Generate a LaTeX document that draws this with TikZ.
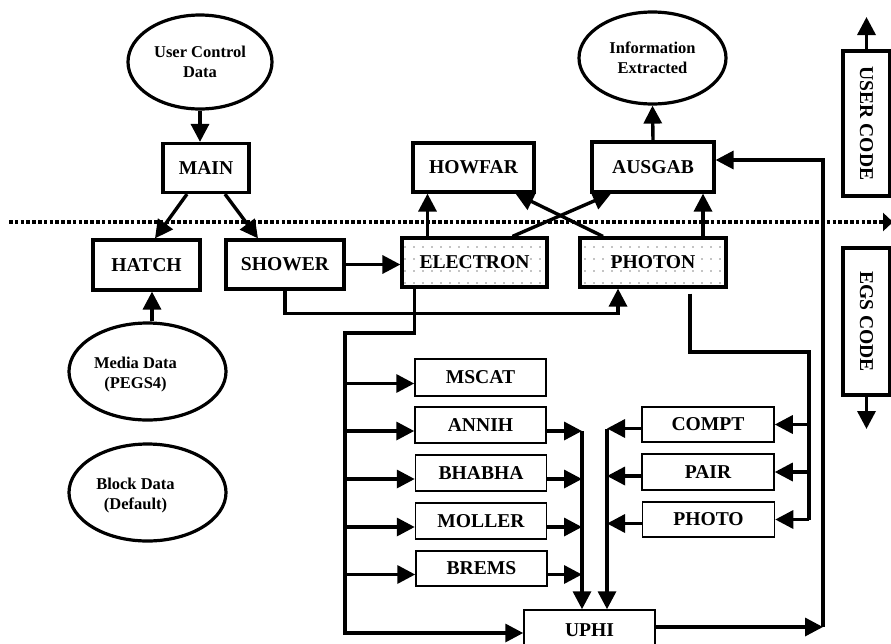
\documentclass[tikz,border=0pt]{standalone}
\usepackage{fontspec}
\setmainfont{Liberation Serif}
\usepackage{graphicx}
\usetikzlibrary{arrows.meta,shapes.geometric,calc,patterns}
\pgfdeclarepatternformonly{sparsedots}{\pgfpoint{-1pt}{-1pt}}{\pgfpoint{1pt}{1pt}}{\pgfpoint{9pt}{12pt}}{\pgfpathcircle{\pgfpointorigin}{0.65pt}\pgfusepath{fill}}
\begin{document}
\begin{tikzpicture}[x=1pt,y=-1pt,
  tbox/.style={draw, line width=3.2pt, inner sep=0pt, font=\fontsize{19.6}{22}\selectfont\bfseries},
  nbox/.style={draw, line width=1.5pt, inner sep=0pt, font=\fontsize{19.6}{22}\selectfont\bfseries},
  oval/.style={draw, ellipse, line width=3.2pt, inner sep=0pt, align=center, font=\fontsize{16.5}{19.5}\selectfont\bfseries},
  ovaltext/.style={font=\fontsize{16.5}{19.5}\selectfont\bfseries, align=center},
  conn/.style={line width=3.4pt, -{Triangle[length=18pt,width=18pt]}},
  plain/.style={line width=3.4pt},
  divider/.style={line width=4pt, dash pattern=on 3.5pt off 2.3pt, -{Triangle[length=10pt,width=18pt]}}
]
\useasboundingbox (0,0) rectangle (891,643);

% ellipses
\node[oval, minimum width=144, minimum height=94] (ucd) at (200,62) {User Control\\Data};
\node[oval, minimum width=147, minimum height=92] (info) at (652.5,58) {Information\\Extracted};
\node[oval, minimum width=157, minimum height=97,
  label={[ovaltext, xshift=-12pt, yshift=-3pt]center:Media Data\\(PEGS4)}] (media) at (147.5,371.5) {};
\node[oval, minimum width=157, minimum height=97,
  label={[ovaltext, xshift=-12pt, yshift=-3pt]center:Block Data\\(Default)}] (block) at (147.5,492.5) {};

% thick boxes
\node[tbox, minimum width=86, minimum height=49] (main) at (206,168) {MAIN};
\node[tbox, minimum width=107, minimum height=50] (hatch) at (146.5,265) {HATCH};
\node[tbox, minimum width=118, minimum height=49] (shower) at (285,264.5) {SHOWER};
\node[tbox, pattern=sparsedots, minimum width=145, minimum height=49] (electron) at (474.5,262.5) {ELECTRON};
\node[tbox, pattern=sparsedots, minimum width=146, minimum height=49] (photon) at (653,262.5) {PHOTON};
\node[tbox, minimum width=121, minimum height=49] (howfar) at (473.5,167.5) {HOWFAR};
\node[tbox, minimum width=122, minimum height=50] (ausgab) at (653,167) {AUSGAB};
\node[tbox, minimum width=47, minimum height=145] (usercode) at (866.5,123.5) {\rotatebox{-90}{USER CODE}};
\node[tbox, minimum width=47, minimum height=147] (egscode) at (866.5,321.5) {\rotatebox{-90}{EGS CODE}};

% thin boxes
\node[nbox, minimum width=131, minimum height=37] (mscat) at (480.5,377.5) {MSCAT};
\node[nbox, minimum width=131, minimum height=36] (annih) at (480.5,425) {ANNIH};
\node[nbox, minimum width=131, minimum height=36] (bhabha) at (481,473) {BHABHA};
\node[nbox, minimum width=131, minimum height=36] (moller) at (481,521) {MOLLER};
\node[nbox, minimum width=131, minimum height=35] (brems) at (481.5,568.5) {BREMS};
\node[nbox, minimum width=132, minimum height=35] (compt) at (708,424.5) {COMPT};
\node[nbox, minimum width=132, minimum height=36] (pair) at (708,472) {PAIR};
\node[nbox, minimum width=132, minimum height=35] (photo) at (708.5,519.5) {PHOTO};
\node[nbox, minimum width=131, minimum height=40] (uphi) at (589.5,630) {UPHI};

% divider
\coordinate (dl) at (9,222);
\coordinate (dr) at (893,222);
\draw[divider] (dl) -- (dr);

% code arrows
\coordinate (ucup) at (866.5,17);
\coordinate (egsdown) at (866.5,429);
\draw[conn] (usercode.north) -- (ucup);
\draw[conn] (egscode.south) -- (egsdown);

% top part
\draw[conn] (ucd.south) -- (ucd.south |- main.north);
\draw[conn] ([xshift=-19pt]main.south) -- ([xshift=8.5pt]hatch.north);
\draw[conn] ([xshift=19pt]main.south) -- ([xshift=-27pt]shower.north);
\coordinate (mtop) at ([xshift=4.5pt]media.north);
\draw[conn] (mtop) -- (mtop |- hatch.south);
\draw[conn] (shower.east) -- (shower.east -| electron.west);
\draw[conn] (shower.south) -- ++(0,23) -| ($(photon.south)+(-35,0)$);

\draw[conn] (ausgab.north) -- (info.south);
\coordinate (en1) at ([xshift=-47pt]electron.north);
\draw[conn] (en1) -- (en1 |- howfar.south);
\coordinate (pn1) at ([xshift=50pt]photon.north);
\draw[conn] (pn1) -- (pn1 |- ausgab.south);
\draw[conn] ([xshift=38pt]electron.north) -- ([xshift=-42pt]ausgab.south);
\draw[conn] ([xshift=-50pt]photon.north) -- ([xshift=42pt]howfar.south);

% electron bus
\coordinate (eb) at ([xshift=-60pt]electron.south);
\coordinate (b1) at (345,333);
\coordinate (b2) at (345,633);
\draw[conn] (eb) |- (b1) -- (b2) -- (b2 -| uphi.west);
\foreach \n in {mscat,annih,bhabha,moller,brems} {
  \coordinate (\n-in) at ([yshift=-6pt]\n.west);
  \draw[conn] (b1 |- \n-in) -- (\n-in);
}
\coordinate (c1) at (582,0);
\coordinate (c2) at (607,0);
\foreach \n in {annih,bhabha,moller,brems} {
  \coordinate (\n-out) at ([yshift=-6pt]\n.east);
  \draw[conn] (\n-out) -- (\n-out -| c1);
}
\draw[conn] (c1 |- annih-out) -- (c1 |- uphi.north);
\foreach \n in {compt,pair,photo} {
  \coordinate (\n-out) at ([yshift=-4pt]\n.west);
  \draw[conn] (\n-out) -- (\n-out -| c2);
}
\draw[conn] (c2 |- compt-out) -- (c2 |- uphi.north);

% photon bus
\coordinate (pb) at ([xshift=37pt,yshift=-5pt]photon.south);
\coordinate (p1) at (809,352);
\draw[plain] (pb) |- (p1) -- (p1 |- photo.east);
\foreach \n in {compt,pair,photo} {
  \draw[conn] (p1 |- \n.east) -- (\n.east);
}

% uphi to ausgab
\coordinate (uo) at ([yshift=3pt]uphi.east);
\coordinate (r2) at (823,160);
\draw[conn] (uo) -- (uo -| r2);
\draw[conn] (uo -| r2) -- (r2) -- (r2 -| ausgab.east);
\end{tikzpicture}
\end{document}
